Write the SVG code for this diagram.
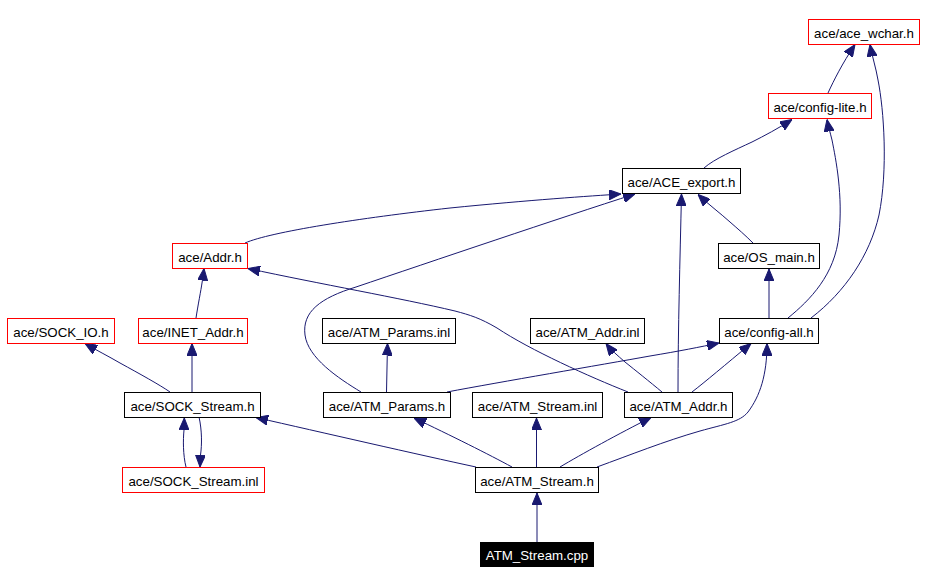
<svg xmlns="http://www.w3.org/2000/svg" width="927" height="584" viewBox="0 0 927 584">
<style>
.n rect{fill:#fff;stroke:#000;stroke-width:1}
.n.r rect{stroke:#f00}
.n.cur rect{fill:#000;stroke:#000}
.n text{font-family:"Liberation Sans",Arial,sans-serif;font-size:13.3px;text-anchor:middle;fill:#000}
.n.cur text{fill:#fff}
#edges path{fill:none;stroke:#191970;stroke-width:1;marker-end:url(#ah)}
</style>
<defs>
<marker id="ah" viewBox="0 0 12 10" refX="12" refY="5" markerWidth="12" markerHeight="10" markerUnits="userSpaceOnUse" orient="auto">
<path d="M0,0 L12,5 L0,10 z" fill="#191970" stroke="#191970" stroke-width="1"/>
</marker>
</defs>
<rect width="927" height="584" fill="#fff"/>
<g id="edges">
<path d="M828,93 C834,80 842,64 855,44.5"/>
<path d="M811,318 C845,292 870,255 879,215 C888,170 884,110 878,80 C876,68 872,56 870,44.5"/>
<path d="M704,168 C714,159 735,150 752,142 C764,136 779,128 792,119.5"/>
<path d="M788,318 C810,300 835,275 839,235 C843,195 836,160 832,140 C830,132 828,125 827,119.5"/>
<path d="M245,243 C270,232 360,218 450,208 C530,200 590,196 621,194"/>
<path d="M361,392 C338,378 308,358 305,335 C302,312 320,298 356,287 C430,262 560,218 635,194"/>
<path d="M678,392 C678,330 680,260 681.5,194"/>
<path d="M753,243 C745,235 738,229 730,222 C720,213 708,204 698,194.5"/>
<path d="M769,318 L769,269"/>
<path d="M196,318 C198,305 201,290 202,283 C203,277 203.5,273 204,268.5"/>
<path d="M628,392 C590,377 530,350 497,328 C480,318 470,315 455,311 C400,298 320,284 248,268.5"/>
<path d="M170,392 C160,385 140,374 120,363 C108,356 96,350 85,343.5"/>
<path d="M192,392 L192,343.5"/>
<path d="M199,417 C202,430 202,445 200.5,455 L200,467"/>
<path d="M186,467 C183,455 183,440 184,430 L184.3,418"/>
<path d="M386.5,392 L387.5,343.5"/>
<path d="M447,392 C500,382 600,365 650,356 C680,351 700,347 719,343"/>
<path d="M662,392 C650,382 635,370 625,362 C617,355 611,350 606,343.5"/>
<path d="M692,392 C705,382 725,365 751,343.5"/>
<path d="M476,467 C420,455 320,432 256,417.5"/>
<path d="M512,467 C490,455 450,435 414,418"/>
<path d="M536.5,467 L536.5,418"/>
<path d="M560,467 C580,455 620,433 651,417.5"/>
<path d="M597,467 C630,455 665,441 700,431 C725,424 740,422 748,412 C760,396 767,375 767,343.5"/>
<path d="M537,542 L537,493"/>
</g>
<g id="n_ace_wchar" class="n r"><rect x="808.5" y="19.5" width="111" height="25"/><text x="864" y="37.5">ace/ace_wchar.h</text></g>
<g id="n_config_lite" class="n r"><rect x="768.5" y="93.5" width="103" height="25"/><text x="820" y="111.5">ace/config-lite.h</text></g>
<g id="n_ACE_export" class="n"><rect x="622.5" y="168.5" width="118" height="25"/><text x="681.5" y="186.5">ace/ACE_export.h</text></g>
<g id="n_Addr" class="n r"><rect x="172.5" y="243.5" width="75" height="25"/><text x="210" y="261.5">ace/Addr.h</text></g>
<g id="n_OS_main" class="n"><rect x="718.5" y="243.5" width="101" height="25"/><text x="769" y="261.5">ace/OS_main.h</text></g>
<g id="n_SOCK_IO" class="n r"><rect x="7.5" y="318.5" width="107" height="25"/><text x="61" y="336.5">ace/SOCK_IO.h</text></g>
<g id="n_INET_Addr" class="n r"><rect x="138.5" y="318.5" width="109" height="25"/><text x="193" y="336.5">ace/INET_Addr.h</text></g>
<g id="n_ATM_Params_inl" class="n"><rect x="322.5" y="318.5" width="133" height="25"/><text x="389" y="336.5">ace/ATM_Params.inl</text></g>
<g id="n_ATM_Addr_inl" class="n"><rect x="530.5" y="318.5" width="114" height="25"/><text x="587.5" y="336.5">ace/ATM_Addr.inl</text></g>
<g id="n_config_all" class="n"><rect x="719.5" y="318.5" width="99" height="25"/><text x="769" y="336.5">ace/config-all.h</text></g>
<g id="n_SOCK_Stream_h" class="n"><rect x="124.5" y="392.5" width="136" height="25"/><text x="192.5" y="410.5">ace/SOCK_Stream.h</text></g>
<g id="n_ATM_Params_h" class="n"><rect x="323.5" y="392.5" width="127" height="25"/><text x="387" y="410.5">ace/ATM_Params.h</text></g>
<g id="n_ATM_Stream_inl" class="n"><rect x="472.5" y="392.5" width="130" height="25"/><text x="537.5" y="410.5">ace/ATM_Stream.inl</text></g>
<g id="n_ATM_Addr_h" class="n"><rect x="624.5" y="392.5" width="108" height="25"/><text x="678.5" y="410.5">ace/ATM_Addr.h</text></g>
<g id="n_SOCK_Stream_inl" class="n r"><rect x="122.5" y="467.5" width="142" height="25"/><text x="193.5" y="485.5">ace/SOCK_Stream.inl</text></g>
<g id="n_ATM_Stream_h" class="n"><rect x="475.5" y="467.5" width="123" height="25"/><text x="537" y="485.5">ace/ATM_Stream.h</text></g>
<g id="n_ATM_Stream_cpp" class="n cur"><rect x="480.5" y="542.5" width="113" height="24"/><text x="537" y="560">ATM_Stream.cpp</text></g>
</svg>
